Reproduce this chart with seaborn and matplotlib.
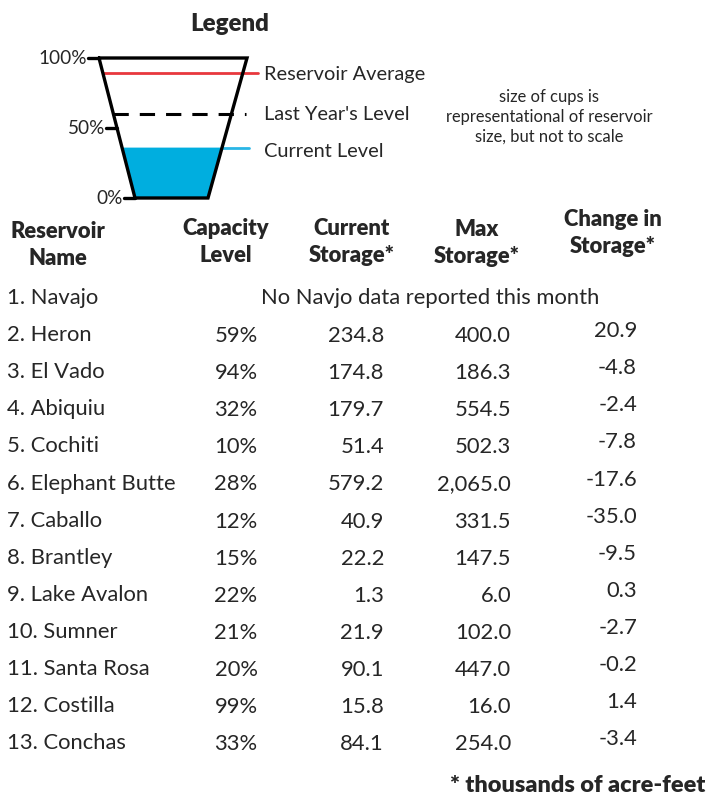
import numpy as np
import seaborn as sns
import matplotlib.pyplot as plt

# legend levels (percent of capacity)
legend_ticks = [100, 50, 0]
level_avg = 89
level_last = 60
level_current = 36

# table data
names = ["1. Navajo", "2. Heron", "3. El Vado", "4. Abiquiu", "5. Cochiti",
         "6. Elephant Butte", "7. Caballo", "8. Brantley", "9. Lake Avalon",
         "10. Sumner", "11. Santa Rosa", "12. Costilla", "13. Conchas"]
capacity = [None, "59%", "94%", "32%", "10%", "28%", "12%", "15%", "22%",
            "21%", "20%", "99%", "33%"]
current_storage = [None, "234.8", "174.8", "179.7", "51.4", "579.2", "40.9",
                   "22.2", "1.3", "21.9", "90.1", "15.8", "84.1"]
max_storage = [None, "400.0", "186.3", "554.5", "502.3", "2,065.0", "331.5",
               "147.5", "6.0", "102.0", "447.0", "16.0", "254.0"]
change = [None, "20.9", "-4.8", "-2.4", "-7.8", "-17.6", "-35.0", "-9.5",
          "0.3", "-2.7", "-0.2", "1.4", "-3.4"]
headers = ["Reservoir\nName", "Capacity\nLevel", "Current\nStorage*",
           "Max\nStorage*", "Change in\nStorage*"]

sns.set_theme(style="white")
plt.rcParams["font.family"] = ["Lato", "DejaVu Sans"]

W, H = 709, 802
fig = plt.figure(figsize=(W / 100, H / 100), dpi=100)
ax = fig.add_axes([0, 0, 1, 1])
ax.set_xlim(0, W)
ax.set_ylim(H, 0)
ax.axis("off")


def pt(px):
    return px * 0.72


# cup geometry
top_y, bot_y = 58, 198
top_l, top_r = 99, 247
bot_l, bot_r = 135, 208


def lvl_y(p):
    return bot_y - (bot_y - top_y) * p / 100


def wall_x(y):
    f = (y - top_y) / (bot_y - top_y)
    return top_l + f * (bot_l - top_l), top_r + f * (bot_r - top_r)


ax.text(230, 24, "Legend", ha="center", va="center", fontsize=pt(24), fontweight="heavy")

# current level fill
yc = lvl_y(level_current)
lc, rc = wall_x(yc)
ax.fill([lc, rc, bot_r, bot_l], [yc, yc, bot_y, bot_y], color="#00AEDF", lw=0, zorder=1)
ax.plot([rc, 249], [yc, yc], color="#29B6E6", lw=2, zorder=1)

# reservoir average
ya = lvl_y(level_avg)
la, ra = wall_x(ya)
ax.plot([la, 258], [ya, ya], color="#E8383D", lw=2, zorder=2)

# last year's level
yl = lvl_y(level_last)
ll, rl = wall_x(yl)
ax.plot([ll, 246], [yl, yl], color="black", lw=2.2, dashes=(5, 3.6), zorder=2)

# cup outline
ax.plot([top_l, top_r, bot_r, bot_l, top_l], [top_y, top_y, bot_y, bot_y, top_y],
        color="black", lw=2.4, solid_joinstyle="miter", zorder=3)

# ticks
for t in legend_ticks:
    y = lvl_y(t)
    wl, _ = wall_x(y)
    ax.plot([wl - 11, wl], [y, y], color="black", lw=2.4, zorder=3)
    ax.text(wl - 12, y + 1, f"{t}%", ha="right", va="center", fontsize=pt(19))

lab_fs = pt(20)
ax.text(264, ya + 1, "Reservoir Average", ha="left", va="center", fontsize=lab_fs)
ax.text(264, yl + 1, "Last Year's Level", ha="left", va="center", fontsize=lab_fs)
ax.text(264, yc + 4, "Current Level", ha="left", va="center", fontsize=lab_fs)

ax.text(549, 117, "size of cups is\nrepresentational of reservoir\nsize, but not to scale",
        ha="center", va="center", fontsize=pt(16.5), linespacing=1.3)

# table headers
hdr_x = [58, 226, 352, 477, 613]
hdr_y = [245, 242, 242, 243, 233]
for x, y, h in zip(hdr_x, hdr_y, headers):
    ax.text(x, y, h, ha="center", va="center", fontsize=pt(22),
            fontweight="heavy", linespacing=1.3)

# rows
row_fs = pt(22)
y0, dy = 298, 37.1
for i, name in enumerate(names):
    y = y0 + i * dy
    ax.text(7, y, name, ha="left", va="center", fontsize=row_fs)
    if capacity[i] is None:
        ax.text(430, y, "No Navjo data reported this month", ha="center", va="center",
                fontsize=row_fs)
        continue
    ax.text(236, y + 1, capacity[i], ha="center", va="center", fontsize=row_fs)
    ax.text(384, y + 1, current_storage[i], ha="right", va="center", fontsize=row_fs)
    ax.text(511, y + 1, max_storage[i], ha="right", va="center", fontsize=row_fs)
    ax.text(637, y - 4, change[i], ha="right", va="center", fontsize=row_fs)

ax.text(705, 786, "* thousands of acre-feet", ha="right", va="center",
        fontsize=pt(23.5), fontweight="heavy")

fig.savefig("out.png", dpi=100)
